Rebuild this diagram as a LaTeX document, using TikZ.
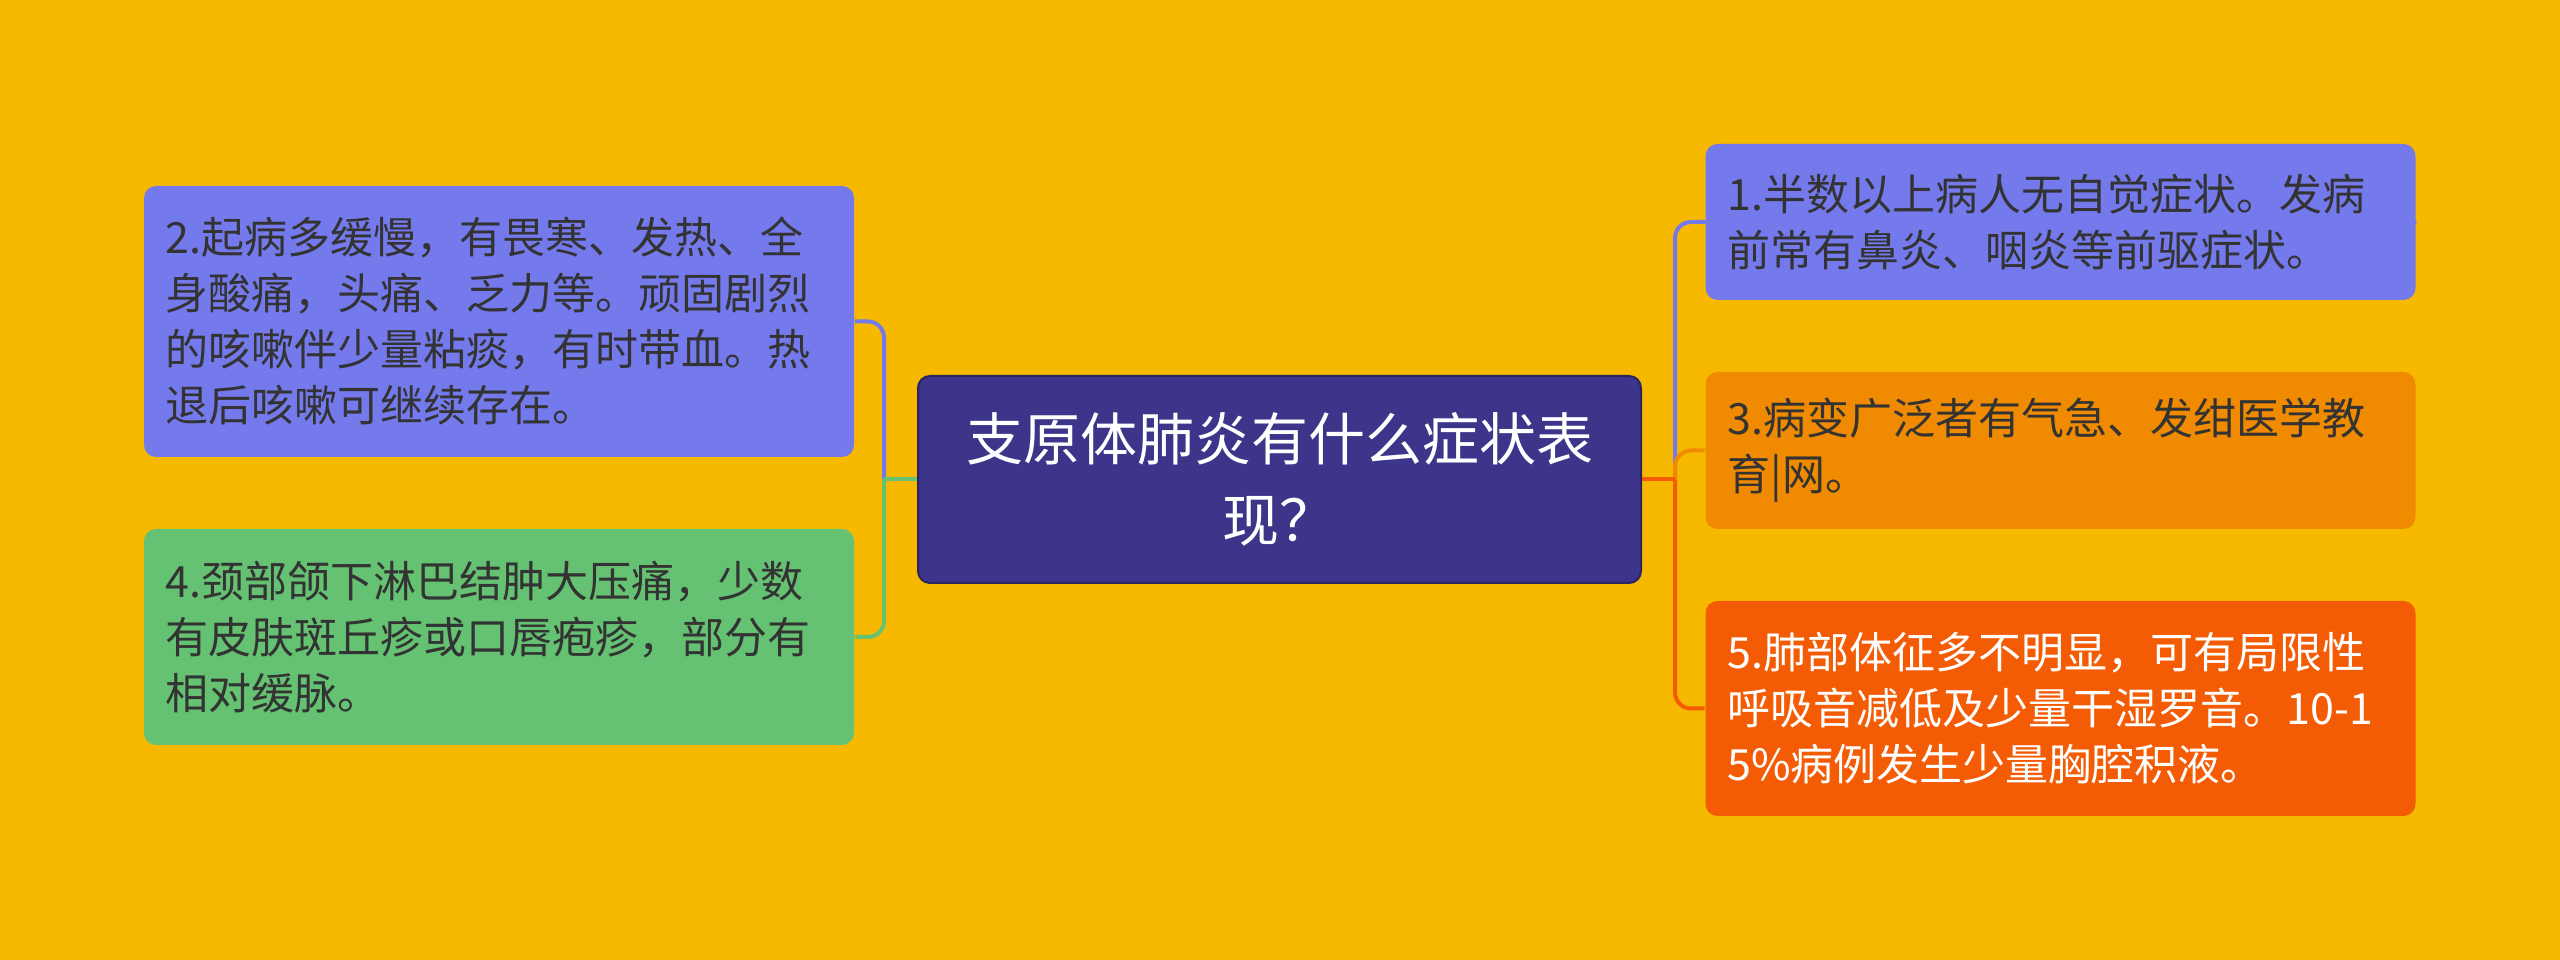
\documentclass[tikz,border=0pt]{standalone}
\usepackage{fontspec}
\setmainfont{Noto Sans CJK SC}
\definecolor{bgyellow}{HTML}{F6B900}
\definecolor{rootblue}{HTML}{3C358A}
\definecolor{lilac}{HTML}{7479EC}
\definecolor{leaf}{HTML}{65C272}
\definecolor{amber}{HTML}{F08A00}
\definecolor{flame}{HTML}{F35C04}
\definecolor{ink}{HTML}{333333}
\begin{document}
\begin{tikzpicture}[x=0.25pt,y=-0.25pt,
    topic/.style={fill=rootblue,draw=rootblue!70!black,line width=0.5pt,rounded corners=3pt,
                  text=white,align=center,minimum width=180.75pt,minimum height=51.75pt,
                  font=\fontsize{14.25}{20.4}\selectfont},
    item/.style={rounded corners=3pt,text=ink,align=left,text width=166.5pt,inner xsep=5.5pt,
                 minimum width=177.5pt,font=\fontsize{10.75}{14}\selectfont},
    branch/.style={line width=1pt,rounded corners=4pt}]
\useasboundingbox [fill=bgyellow] (0,0) rectangle (2560,960);
\node [topic] (root) at (1279.5,479.5) {支原体肺炎有什么症状表\\现？};
% left side
\node [item,fill=lilac,minimum height=67.75pt] (b2) at (499,321.5)
  {2.起病多缓慢，有畏寒、发热、全\\身酸痛，头痛、乏力等。顽固剧烈\\的咳嗽伴少量粘痰，有时带血。热\\退后咳嗽可继续存在。};
\node [item,fill=leaf,minimum height=54pt] (b4) at (499,637)
  {4.颈部颌下淋巴结肿大压痛，少数\\有皮肤斑丘疹或口唇疱疹，部分有\\相对缓脉。};
% right side
\node [item,fill=lilac,minimum height=39pt] (b1) at (2060.5,222)
  {1.半数以上病人无自觉症状。发病\\前常有鼻炎、咽炎等前驱症状。};
\node [item,fill=amber,minimum height=39.25pt] (b3) at (2060.5,450.5)
  {3.病变广泛者有气急、发绀医学教\\育\textbar 网。};
\node [item,fill=flame,text=white,minimum height=53.75pt] (b5) at (2060.5,708.5)
  {5.肺部体征多不明显，可有局限性\\呼吸音减低及少量干湿罗音。10-1\\5\%病例发生少量胸腔积液。};
\coordinate (ljoin) at (884,479.5);
\coordinate (rjoin) at (1675,479.5);
\draw [branch,lilac] (ljoin) |- (b2.east);
\draw [branch,leaf] (ljoin) |- (b4.east);
\draw [branch,leaf] (root.west) -- (ljoin);
\draw [branch,lilac] (rjoin) |- (b1.east);
\draw [branch,amber] (rjoin) |- (b3.west);
\draw [branch,flame] (rjoin) |- (b5.west);
\draw [branch,flame] (root.east) -- (rjoin);
\end{tikzpicture}
\end{document}
